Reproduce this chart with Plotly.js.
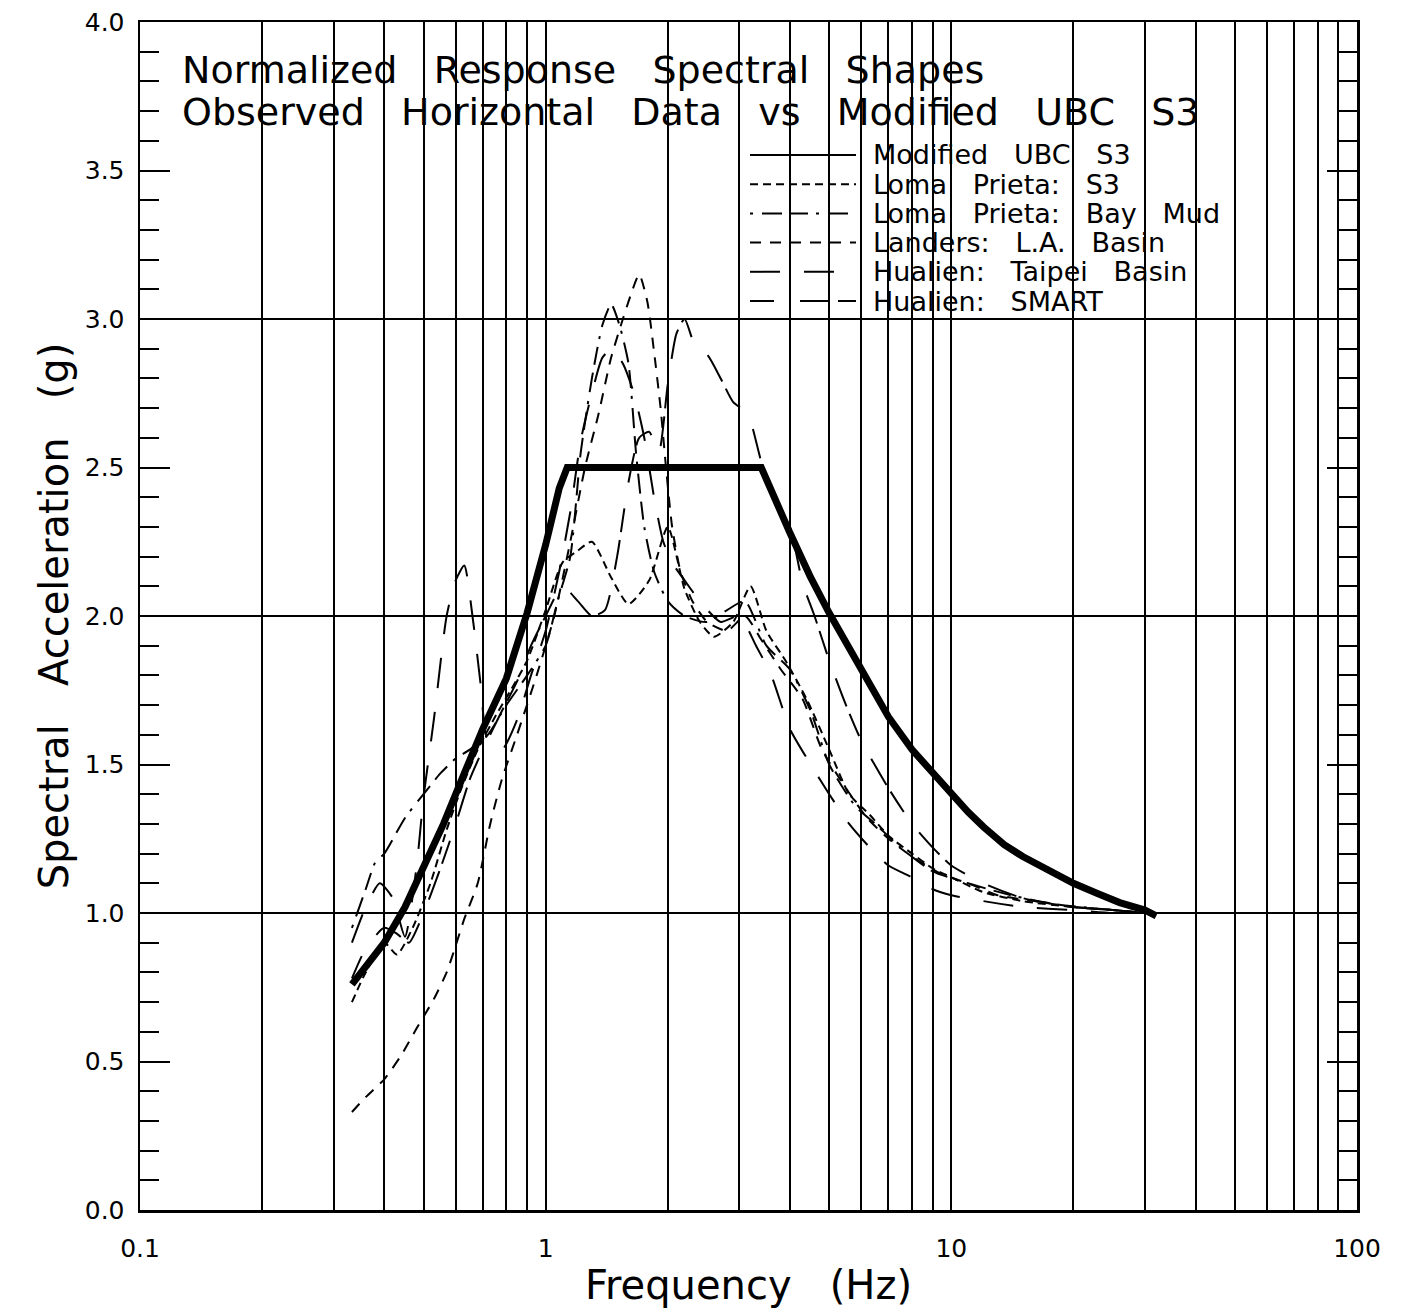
<!DOCTYPE html>
<html>
<head>
<meta charset="utf-8">
<script src="https://cdn.plot.ly/plotly-3.0.1.min.js"></script>
<style>html,body{margin:0;padding:0;background:#fff;}#chart{width:1402px;height:1316px;}</style>
</head>
<body>
<div id="chart"></div>
<script>
// ---------- DATA ----------
const seriesNames = ["Modified UBC S3", "Loma Prieta: S3", "Loma Prieta: Bay Mud", "Landers: L.A. Basin", "Hualien: Taipei Basin", "Hualien: SMART"];

const ubcF = [0.333,0.36,0.40,0.45,0.50,0.56,0.63,0.70,0.80,0.90,1.0,1.08,1.13,3.4,4.0,4.5,5.0,5.5,6.0,7.0,8.0,9.0,10,11,12,13.5,15,17.5,20,23,26,30,32];
const ubcY = [0.76,0.82,0.90,1.02,1.15,1.30,1.47,1.62,1.79,2.01,2.24,2.43,2.50,2.50,2.28,2.13,2.01,1.91,1.82,1.66,1.55,1.47,1.40,1.34,1.29,1.23,1.19,1.14,1.10,1.065,1.035,1.01,0.99];

const lpS3F = [0.333,0.36,0.40,0.43,0.47,0.52,0.57,0.62,0.68,0.75,0.82,0.9,1.0,1.1,1.2,1.3,1.45,1.6,1.8,2.0,2.2,2.4,2.6,2.9,3.2,3.5,3.9,4.4,5.0,5.6,6.3,7.0,8.0,9.0,10,12,15,20,25,30];
const lpS3Y = [0.70,0.80,0.90,0.86,0.95,1.10,1.28,1.42,1.55,1.66,1.75,1.85,2.02,2.18,2.22,2.25,2.13,2.04,2.12,2.30,2.09,1.98,1.93,1.98,2.10,1.95,1.85,1.72,1.55,1.40,1.33,1.26,1.20,1.15,1.12,1.07,1.04,1.02,1.01,1.00];

const lpBayF = [0.333,0.36,0.38,0.40,0.45,0.50,0.55,0.60,0.65,0.72,0.80,0.90,1.0,1.07,1.15,1.22,1.3,1.38,1.45,1.52,1.6,1.67,1.75,1.85,2.0,2.2,2.5,2.8,3.1,3.5,4.0,4.5,5.0,5.8,6.5,7.5,9,11,14,18,25,30];
const lpBayY = [0.95,1.08,1.17,1.20,1.32,1.40,1.47,1.52,1.55,1.60,1.70,1.80,1.90,2.05,2.20,2.55,2.80,2.98,3.05,2.98,2.85,2.55,2.30,2.15,2.05,2.00,1.98,2.02,2.05,1.90,1.82,1.68,1.50,1.36,1.30,1.22,1.14,1.10,1.06,1.03,1.01,1.00];

const landersF = [0.333,0.36,0.40,0.44,0.48,0.53,0.57,0.60,0.63,0.68,0.73,0.78,0.85,0.95,1.05,1.15,1.25,1.35,1.45,1.55,1.62,1.7,1.78,1.85,1.92,1.98,2.05,2.15,2.3,2.5,2.8,3.1,3.4,3.8,4.3,4.8,5.5,6.2,7,8,9.5,11,13,16,20,25,30];
const landersY = [0.33,0.38,0.44,0.52,0.61,0.71,0.80,0.89,0.98,1.10,1.30,1.45,1.60,1.80,2.00,2.25,2.50,2.68,2.87,3.00,3.08,3.15,3.06,2.89,2.70,2.50,2.30,2.15,2.05,1.98,1.95,2.00,1.92,1.82,1.72,1.55,1.42,1.32,1.25,1.19,1.13,1.10,1.06,1.04,1.02,1.01,1.00];

const taipeiF = [0.333,0.36,0.39,0.42,0.45,0.48,0.50,0.53,0.57,0.60,0.63,0.66,0.69,0.72,0.78,0.85,0.92,1.0,1.08,1.15,1.22,1.3,1.38,1.46,1.55,1.65,1.75,1.85,1.95,2.05,2.2,2.4,2.7,3.0,3.3,3.6,4.0,4.5,5.0,5.6,6.3,7,8,9,10,12,15,20,25,30];
const taipeiY = [0.90,1.02,1.10,1.05,0.92,1.15,1.39,1.65,2.00,2.12,2.17,2.00,1.78,1.58,1.55,1.65,1.80,1.95,2.15,2.35,2.59,2.75,2.87,2.90,2.85,2.75,2.60,2.40,2.25,2.18,2.12,2.05,1.98,2.00,1.90,1.80,1.62,1.50,1.40,1.30,1.22,1.16,1.12,1.08,1.06,1.04,1.02,1.01,1.00,1.00];

const smartF = [0.333,0.36,0.40,0.43,0.46,0.50,0.55,0.60,0.65,0.70,0.78,0.85,0.92,1.0,1.1,1.2,1.3,1.4,1.5,1.6,1.7,1.8,1.9,2.0,2.1,2.2,2.35,2.5,2.7,2.9,3.15,3.4,3.7,4.0,4.3,4.6,5.0,5.5,6,7,8,9,10,12,15,20,25,30];
const smartY = [0.78,0.88,0.95,0.93,0.90,1.00,1.15,1.30,1.45,1.55,1.68,1.78,1.90,2.00,2.10,2.05,2.00,2.02,2.20,2.45,2.60,2.62,2.55,2.78,2.95,3.00,2.90,2.88,2.80,2.72,2.68,2.52,2.38,2.30,2.11,2.00,1.85,1.70,1.58,1.42,1.30,1.22,1.16,1.10,1.05,1.02,1.01,1.00];

const xTickVals = [0.1, 1, 10, 100];
const xTickText = ["0.1", "1", "10", "100"];
const yTickVals = [0, 0.5, 1, 1.5, 2, 2.5, 3, 3.5, 4];
const yTickText = ["0.0", "0.5", "1.0", "1.5", "2.0", "2.5", "3.0", "3.5", "4.0"];
const yGridVals = [1, 2, 3];
const titleLines = ["Normalized Response Spectral Shapes", "Observed Horizontal Data vs Modified UBC S3"];
const xTitle = "Frequency (Hz)";
const yTitle = "Spectral Acceleration (g)";

// ---------- STYLES ----------
const FONT = "DejaVu Sans, sans-serif";
const dashes = ["solid", "8px,5px", "3px,9px,20px,8px,18px,8px", "11px,9px", "30px,24px", "24px,26px,30px,8px"];
const widths = [7, 2, 2, 2, 2, 2];
const sp = n => "\u00a0".repeat(n);
const spaced = (s, n) => s.split(" ").join(sp(n));

const xs = [ubcF, lpS3F, lpBayF, landersF, taipeiF, smartF];
const ys = [ubcY, lpS3Y, lpBayY, landersY, taipeiY, smartY];

const traces = seriesNames.map((n, i) => ({
  x: xs[i], y: ys[i], type: "scatter", mode: "lines", name: n,
  line: {color: "#000", width: widths[i], dash: dashes[i], shape: i === 0 ? "linear" : "spline", smoothing: 0.6},
  showlegend: false, hoverinfo: "skip"
}));
traces.push(traces.shift()); // UBC on top

// plot area geometry in px
const W = 1402, H = 1316, L = 140, R = 45, T = 22, B = 106;
const pw = W - L - R, ph = H - T - B;
const px = v => (v - L) / pw;
const py = v => (H - B - v) / ph;

const shapes = [];
const annotations = [];

yGridVals.forEach(v => shapes.push({type: "line", xref: "paper", yref: "y", x0: 0, x1: 1, y0: v, y1: v, line: {color: "#000", width: 2}, layer: "below"}));

// manual legend with long line samples
const legY0 = 155, legStep = 29.2;
seriesNames.forEach((n, i) => {
  const yy = py(legY0 + i * legStep);
  shapes.push({type: "line", xref: "paper", yref: "paper", x0: px(750), x1: px(856), y0: yy, y1: yy,
    line: {color: "#000", width: 2, dash: dashes[i]}});
  annotations.push({xref: "paper", yref: "paper", x: px(871), y: yy, xanchor: "left", yanchor: "middle",
    text: spaced(n, 3), showarrow: false, font: {family: FONT, size: 27, color: "#000"}});
});

// in-plot title
titleLines.forEach((t, i) => {
  annotations.push({xref: "paper", yref: "paper", x: px(180), y: py(70 + i * 42), xanchor: "left", yanchor: "middle",
    text: spaced(t, 3), showarrow: false, font: {family: FONT, size: 38, color: "#000"}});
});

const layout = {
  width: W, height: H,
  margin: {l: L, r: R, t: T, b: B, pad: 0},
  paper_bgcolor: "#fff", plot_bgcolor: "#fff",
  font: {family: FONT, color: "#000"},
  xaxis: {
    type: "log", range: [-1, 2],
    tickvals: xTickVals, ticktext: xTickText, ticks: "",
    ticklabelstandoff: 14,
    tickfont: {family: FONT, size: 25},
    showgrid: true, gridcolor: "#000", gridwidth: 2,
    minor: {dtick: "D1", showgrid: true, gridcolor: "#000", gridwidth: 2, ticks: ""},
    showline: true, linecolor: "#000", linewidth: 2.5, mirror: true,
    zeroline: false,
    title: {text: spaced(xTitle, 3), font: {family: FONT, size: 40}, standoff: 10}
  },
  yaxis: {
    range: [0, 4],
    tickvals: yTickVals, ticktext: yTickText,
    ticks: "inside", ticklen: 30, tickwidth: 2, tickcolor: "#000",
    ticklabelstandoff: 8,
    minor: {dtick: 0.1, ticks: "inside", ticklen: 19, tickwidth: 2, tickcolor: "#000", showgrid: false},
    tickfont: {family: FONT, size: 25},
    showgrid: false, zeroline: false,
    showline: true, linecolor: "#000", linewidth: 2.5, mirror: "ticks",
    title: {text: spaced(yTitle, 3), font: {family: FONT, size: 40}, standoff: 4}
  },
  shapes: shapes,
  annotations: annotations,
  showlegend: false
};

Plotly.newPlot("chart", traces, layout, {staticPlot: true, displayModeBar: false});
</script>
</body>
</html>
